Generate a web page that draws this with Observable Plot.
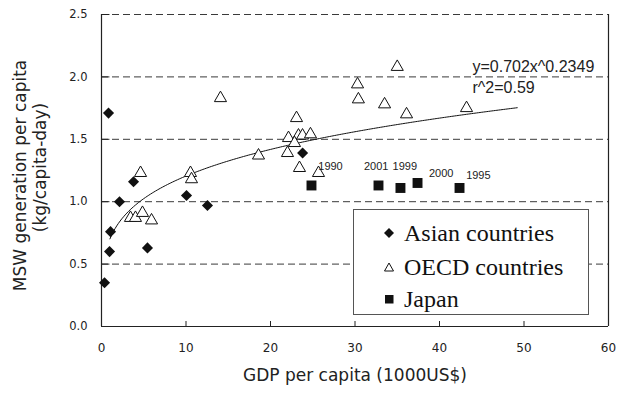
<!DOCTYPE html>
<html><head><meta charset="utf-8">
<script src="https://cdn.jsdelivr.net/npm/d3@7"></script>
<script src="https://cdn.jsdelivr.net/npm/@observablehq/plot@0.6"></script>
<style>
html,body{margin:0;padding:0;background:#fff;}
#wrap{position:relative;width:618px;height:393px;overflow:hidden;}
#legend{position:absolute;left:353px;top:209px;width:236px;height:106px;border:1px solid #555;background:#fff;box-sizing:border-box;font-family:"Liberation Serif","Times New Roman",serif;font-size:24px;color:#111;}
#legend .row{position:absolute;left:0;height:30px;line-height:30px;white-space:nowrap;}
#legend svg{position:absolute;}
#legend span{position:absolute;left:50px;top:0;}
</style>
</head><body>
<div id="wrap"><div id="chart"></div><div id="legend"></div></div>
<script>
// Asian countries
const asianGDP = [0.36, 0.83, 0.95, 1.07, 2.13, 3.79, 5.44, 10.06, 12.54, 23.8];
const asianMSW = [0.35, 1.71, 0.60, 0.76, 1.00, 1.16, 0.63, 1.05, 0.97, 1.39];
// OECD countries
const oecdGDP = [14.08, 23.08, 22.13, 23.31, 23.79, 24.73, 22.84, 22.01, 18.58, 23.43, 25.68, 4.62, 10.53, 10.65, 3.43, 4.02, 4.85, 5.92, 35.0, 30.3, 30.4, 33.5, 36.1, 43.2];
const oecdMSW = [1.83, 1.67, 1.51, 1.53, 1.53, 1.54, 1.47, 1.39, 1.37, 1.27, 1.23, 1.23, 1.23, 1.18, 0.87, 0.87, 0.91, 0.85, 2.08, 1.94, 1.82, 1.78, 1.70, 1.75];
// Japan
const japanGDP = [24.85, 32.78, 35.38, 37.40, 42.37];
const japanMSW = [1.13, 1.13, 1.11, 1.15, 1.11];
const japanYears = ["1990", "2001", "1999", "2000", "1995"];
const yearLabelGDP = [27.1, 32.5, 35.9, 40.2, 44.6];
const yearLabelMSW = [1.28, 1.28, 1.28, 1.23, 1.21];
// Power trendline y = a x^b, as printed on the chart
const fitA = 0.702, fitB = 0.2349, fitFrom = 1.0, fitTo = 49.2;
const equationText = ["y=0.702x^0.2349", "r^2=0.59"];
// Axes
const xTicks = [0, 10, 20, 30, 40, 50, 60];
const yTicks = [0, 0.5, 1.0, 1.5, 2.0, 2.5];
const xTitle = "GDP per capita (1000US$)";
const yTitle1 = "MSW generation per capita";
const yTitle2 = "(kg/capita-day)";
const legendNames = ["Asian countries", "OECD countries", "Japan"];

const asian = asianGDP.map((x, i) => ({x, y: asianMSW[i]}));
const oecd = oecdGDP.map((x, i) => ({x, y: oecdMSW[i]}));
const japan = japanGDP.map((x, i) => ({x, y: japanMSW[i], year: japanYears[i]}));
const yearLabels = japanYears.map((t, i) => ({x: yearLabelGDP[i], y: yearLabelMSW[i], t}));
const fit = d3.range(fitFrom, fitTo + 0.001, 0.2).map(x => ({x, y: fitA * Math.pow(x, fitB)}));

const ink = "#111";
const chart = Plot.plot({
  width: 618, height: 393,
  marginLeft: 101, marginRight: 10, marginTop: 14, marginBottom: 67,
  style: {fontFamily: "'DejaVu Sans', sans-serif", background: "#fff", color: "#222"},
  x: {domain: [0, 60], ticks: xTicks},
  y: {domain: [0, 2.5], ticks: yTicks},
  marks: [
    Plot.ruleY(yTicks.slice(1), {stroke: "#3a3a3a", strokeDasharray: "7,4", strokeWidth: 1}),
    Plot.ruleX([0, 60], {stroke: "#222", strokeWidth: 1.2}),
    Plot.ruleY([0], {stroke: "#222", strokeWidth: 1.2}),
    Plot.ruleX(xTicks.slice(1, -1), {y1: 0, y2: 0.04, stroke: "#222"}),
    Plot.ruleY(yTicks.slice(1), {x1: 0, x2: 1.0, stroke: "#222"}),
    Plot.axisX({ticks: xTicks, tickSize: 0, tickPadding: 17, fontSize: 12, label: null, tickFormat: d => String(d)}),
    Plot.axisY({ticks: yTicks, tickSize: 0, tickPadding: 14, fontSize: 11.5, label: null, tickFormat: d => d.toFixed(1)}),
    Plot.text([xTitle], {frameAnchor: "bottom", dy: 54, fontSize: 17, fill: "#222"}),
    Plot.text([yTitle1], {frameAnchor: "left", textAnchor: "middle", rotate: -90, dx: -81, dy: 5, fontSize: 17, fill: "#222"}),
    Plot.text([yTitle2], {frameAnchor: "left", textAnchor: "middle", rotate: -90, dx: -61, dy: -3, fontSize: 17, fill: "#222"}),
    Plot.line(fit, {x: "x", y: "y", stroke: ink, strokeWidth: 1}),
    Plot.dot(asian, {x: "x", y: "y", symbol: "diamond2", r: 5, fill: ink, stroke: "none"}),
    Plot.dot(oecd, {x: "x", y: "y", symbol: "triangle", r: 4.5, fill: "white", stroke: ink, strokeWidth: 1}),
    Plot.dot(japan, {x: "x", y: "y", symbol: "square", r: 5.6, fill: ink, stroke: "none"}),
    Plot.text(yearLabels, {x: "x", y: "y", text: "t", fontSize: 11, fontFamily: "'Liberation Sans', sans-serif", fill: "#222"}),
    Plot.text([equationText[0]], {x: 43.9, y: 2.08, textAnchor: "start", fontSize: 16, fontFamily: "'Liberation Sans', sans-serif", fill: "#222"}),
    Plot.text([equationText[1]], {x: 43.9, y: 1.915, textAnchor: "start", fontSize: 16, fontFamily: "'Liberation Sans', sans-serif", fill: "#222"})
  ]
});
document.getElementById("chart").appendChild(chart);

// Legend
const shapes = [
  '<path d="M5,0 L10,5 L5,10 L0,5 Z" fill="#111"/>',
  '<path d="M5,1 L9.5,9 L0.5,9 Z" fill="white" stroke="#111" stroke-width="1"/>',
  '<rect x="1" y="1" width="8.5" height="8.5" fill="#111"/>'
];
const rowCenters = [23, 57, 89];
const leg = document.getElementById("legend");
legendNames.forEach((name, i) => {
  const row = document.createElement("div");
  row.className = "row";
  row.style.top = (rowCenters[i] - 15) + "px";
  row.style.width = "100%";
  row.innerHTML = `<svg width="10" height="10" viewBox="0 0 10 10" style="top:10px;left:30px">${shapes[i]}</svg><span>${name}</span>`;
  leg.appendChild(row);
});
</script>
</body></html>
